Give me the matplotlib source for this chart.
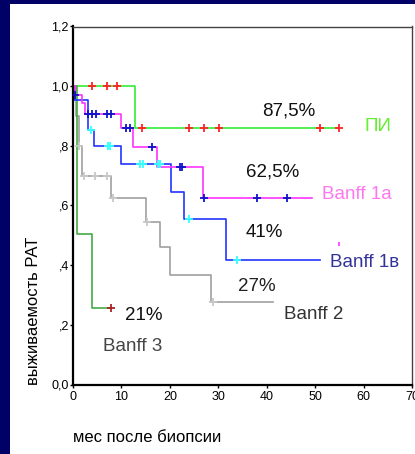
import numpy as np
import matplotlib
matplotlib.use("Agg")
import matplotlib.pyplot as plt
from matplotlib.patches import Rectangle

plt.rcParams['font.family'] = ['Liberation Sans', 'DejaVu Sans']

# ---- data ----
pi_t = [0, 12.9, 55.0]
pi_s = [1.0, 0.86, 0.86]
pi_cens = [4.0, 7.0, 9.0, 14.2, 24.0, 27.1, 30.1, 51.0, 55.0]

b1a_t = [0, 0.4, 1.9, 2.5, 9.9, 12.3, 17.3, 26.8, 49.4]
b1a_s = [1.0, 0.972, 0.942, 0.908, 0.859, 0.797, 0.730, 0.626, 0.626]
b1a_cens = [0.5, 3.1, 3.9, 4.8, 7.0, 7.8, 10.9, 11.8, 16.3, 22.0, 22.5, 27.0, 38.0, 44.1]

b1v_t = [0, 0.3, 3.1, 4.3, 9.9, 20.3, 23.0, 31.6, 50.9]
b1v_s = [1.0, 0.954, 0.852, 0.80, 0.738, 0.645, 0.555, 0.417, 0.417]
b1v_cens = [3.8, 7.2, 7.7, 13.9, 14.4, 17.5, 18.0, 24.0, 33.9]

b2_t = [0, 0.6, 1.2, 1.8, 7.9, 15.1, 18.0, 20.1, 28.4, 41.4]
b2_s = [1.0, 0.90, 0.80, 0.698, 0.626, 0.545, 0.46, 0.367, 0.277, 0.277]
b2_cens = [1.3, 2.2, 4.5, 7.0, 8.2, 15.3, 29.0]

b3_t = [0, 0.8, 4.0, 7.9]
b3_s = [1.0, 0.505, 0.255, 0.255]
b3_cens = [7.9]

stray_x = [55.0]
stray_y = [0.47]

yticks = [0.0, 0.2, 0.4, 0.6, 0.8, 1.0, 1.2]
ytick_labels = ["0,0", ",2", ",4", ",6", ",8", "1,0", "1,2"]
xticks = [0, 10, 20, 30, 40, 50, 60, 70]

annotations = [
    ("87,5%", 44.5, 0.917, "#111111"),
    ("ПИ", 62.9, 0.865, "#66ee33"),
    ("62,5%", 41.2, 0.712, "#111111"),
    ("Banff 1a", 58.7, 0.638, "#ff77ee"),
    ("41%", 39.5, 0.508, "#111111"),
    ("Banff 1в", 60.2, 0.408, "#333399"),
    ("27%", 38.0, 0.327, "#222222"),
    ("Banff 2", 49.6, 0.233, "#333333"),
    ("21%", 14.6, 0.230, "#111111"),
    ("Banff 3", 12.3, 0.126, "#444444"),
]

W, H = 415, 454
fig = plt.figure(figsize=(W / 100, H / 100), dpi=100)
fig.patch.set_facecolor("#000066")
fig.patches.append(Rectangle((10 / W, 0), 1 - 10 / W, (H - 4) / H,
                             transform=fig.transFigure, facecolor="white",
                             edgecolor="none", zorder=-10))

ax = fig.add_axes([73 / W, 69.5 / H, (412 - 73) / W, (427.5 - 69.5) / H])
ax.set_facecolor("white")
ax.set_xlim(0, 70)
ax.set_ylim(0, 1.2)


def step_val(t, s, x):
    i = np.searchsorted(np.asarray(t), x, side="right") - 1
    return np.asarray(s)[i]


series = [
    (pi_t, pi_s, pi_cens, "#33ee33", "#ff2222"),
    (b2_t, b2_s, b2_cens, "#a0a0a0", "#c8c8c8"),
    (b3_t, b3_s, b3_cens, "#44aa44", "#aa2222"),
    (b1v_t, b1v_s, b1v_cens, "#2233ff", "#33ffff"),
    (b1a_t, b1a_s, b1a_cens, "#ff33ff", "#1111cc"),
]
for t, s, c, lc, mc in series:
    ax.step(t, s, where="post", color=lc, lw=1.2, zorder=2)
    cy = [step_val(t, s, x) for x in c]
    ax.plot(c, cy, linestyle="none", marker="+", ms=6, mew=1.3, color=mc, zorder=3)

ax.plot(stray_x, stray_y, linestyle="none", marker="|", ms=3, mew=1.2, color="#ff33ff")

for txt, x, y, col in annotations:
    ax.text(x, y, txt, color=col, fontsize=13.5, ha="center", va="center")

ax.set_yticks(yticks)
ax.set_yticklabels(ytick_labels)
ax.set_xticks(xticks)
ax.tick_params(axis="both", direction="out", length=2, width=1, labelsize=9,
               colors="black")
ax.tick_params(axis="y", pad=1)
ax.tick_params(axis="x", pad=3)
for side in ["left", "bottom"]:
    ax.spines[side].set_linewidth(1.6)
    ax.spines[side].set_color("black")
for side in ["top", "right"]:
    ax.spines[side].set_linewidth(1.0)
    ax.spines[side].set_color("#444444")

fig.text(33 / W, 1 - 311 / H, "выживаемость РАТ", rotation=90, fontsize=12,
         ha="center", va="center", color="black")
fig.text(73 / W, 1 - 437 / H, "мес после биопсии", fontsize=12,
         ha="left", va="center", color="black")

fig.savefig("out.png", dpi=100, facecolor=fig.get_facecolor())
